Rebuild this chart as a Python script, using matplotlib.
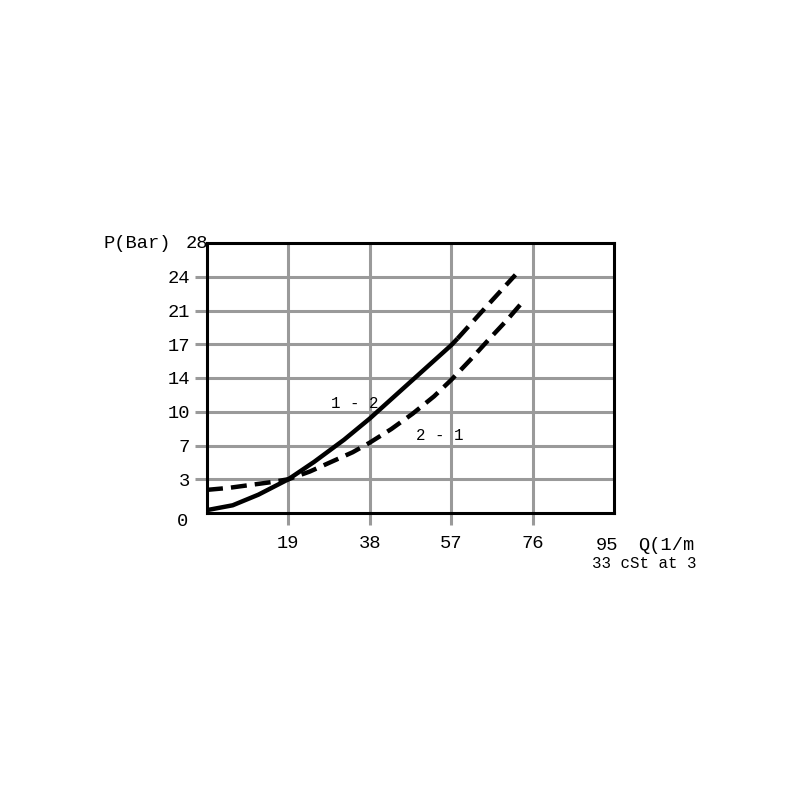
import matplotlib
matplotlib.use("Agg")
import matplotlib.pyplot as plt

plt.rcParams['font.family'] = ['Liberation Mono', 'DejaVu Sans Mono']
plt.rcParams['lines.scale_dashes'] = False

# flow (l/min) and pressure drop (bar)
q_12_solid = [0, 6, 12, 19, 25, 32, 38, 44, 50, 57, 58.5]
p_12_solid = [0.3, 0.8, 1.9, 3.5, 5.3, 7.6, 9.8, 12.2, 14.6, 17.4, 18.1]
q_12_dash = [58.5, 65, 72]
p_12_dash = [18.1, 21.3, 24.7]

q_21 = [0, 5, 10, 15, 19, 24, 29, 34, 38, 43, 48, 53, 57, 61.5, 66, 70, 73.5]
p_21 = [2.4, 2.6, 2.9, 3.2, 3.5, 4.3, 5.3, 6.3, 7.3, 8.7, 10.3, 12.1, 13.8, 15.9, 18.1, 20.0, 21.8]

x_ticks = [19, 38, 57, 76]
y_ticks = [3.5, 7, 10.5, 14, 17.5, 21, 24.5]
y_labels = ['3', '7', '10', '14', '17', '21', '24']

grey = '#9a9a9a'
big = 13.5
small = 11.3

fig = plt.figure(figsize=(8, 8), dpi=100)
ax = fig.add_axes([207/800, 1 - 513/800, 407/800, 270/800])

ax.plot(q_12_solid, p_12_solid, color='black', lw=3.2, solid_capstyle='butt')
ax.plot(q_12_dash, p_12_dash, color='black', lw=3.2, dashes=(11.5, 5.8))
ax.plot(q_21, p_21, color='black', lw=3.2, dashes=(11.5, 5.8))

ax.set_xlim(0, 95)
ax.set_ylim(0, 28)
ax.set_xticks(x_ticks)
ax.set_xticklabels([str(v) for v in x_ticks])
ax.set_yticks(y_ticks)
ax.set_yticklabels(y_labels)
ax.tick_params(axis='both', direction='out', length=8.6, width=2.2,
               color=grey, labelsize=big)
ax.tick_params(axis='x', pad=7)
ax.tick_params(axis='y', pad=3.5)
ax.grid(True, color=grey, lw=2.2)
ax.set_axisbelow(True)
for s in ax.spines.values():
    s.set_linewidth(2.2)
    s.set_color('black')

# extra labels
ax.annotate('0', xy=(0, 0), xytext=(-19, -9), textcoords='offset pixels',
            ha='right', va='center', fontsize=big)
ax.annotate('28', xy=(0, 28), xytext=(1, -1), textcoords='offset pixels',
            ha='right', va='center', fontsize=big)
ax.annotate('P(Bar)', xy=(0, 28), xytext=(-36, -1), textcoords='offset pixels',
            ha='right', va='center', fontsize=big)
ax.annotate('95', xy=(95, 0), xytext=(-7, -32), textcoords='offset pixels',
            ha='center', va='center', fontsize=big)
ax.annotate('Q(1/m', xy=(95, 0), xytext=(24, -32), textcoords='offset pixels',
            ha='left', va='center', fontsize=big)
ax.annotate('33 cSt at 3', xy=(95, 0), xytext=(-22, -50), textcoords='offset pixels',
            ha='left', va='center', fontsize=small)

ax.text(28.9, 11.4, '1 - 2', ha='left', va='center', fontsize=small)
ax.text(48.8, 8.0, '2 - 1', ha='left', va='center', fontsize=small)

fig.savefig('out.png', dpi=100, facecolor='white')
